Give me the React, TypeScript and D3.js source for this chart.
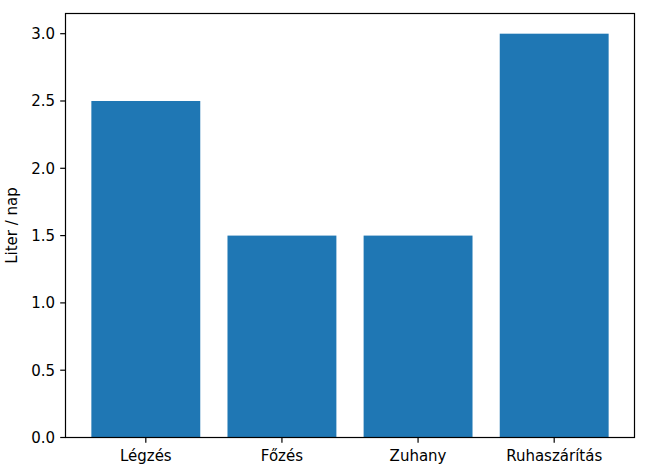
import React from "react";
import * as d3 from "d3";

const categories = ["Légzés", "Főzés", "Zuhany", "Ruhaszárítás"];
const values = [2.5, 1.5, 1.5, 3.0];
const yTicks = [0, 0.5, 1.0, 1.5, 2.0, 2.5, 3.0];
const yLabel = "Liter / nap";

export default function App() {
  const W = 657, H = 467;
  const left = 65.5, right = 634.5, top = 13.5, bottom = 437.5;
  const x = d3.scaleLinear().domain([-0.59, 3.59]).range([left, right]);
  const y = d3.scaleLinear().domain([0, 3.15]).range([bottom, top]);
  const bw = x(0.8) - x(0);
  const font = "DejaVu Sans, sans-serif";
  const fs = 15;
  const tickLen = 5.3;
  return (
    <div style={{ position: "absolute", left: 0, top: 0 }}>
      <svg width={W} height={H} style={{ display: "block", background: "#fff" }}>
        {values.map((v, i) => (
          <rect key={i} x={x(i) - bw / 2} y={y(v)} width={bw} height={y(0) - y(v)} fill="#1f77b4" />
        ))}
        <rect x={left} y={top} width={right - left} height={bottom - top} fill="none" stroke="#000" strokeWidth={1.2} />
        {yTicks.map((t) => (
          <g key={t}>
            <line x1={left - tickLen} x2={left} y1={y(t)} y2={y(t)} stroke="#000" strokeWidth={1.2} />
            <text x={left - 10.5} y={y(t)} dy="0.36em" textAnchor="end" fontFamily={font} fontSize={fs} fill="#000">
              {t.toFixed(1)}
            </text>
          </g>
        ))}
        {categories.map((c, i) => (
          <g key={c}>
            <line x1={x(i)} x2={x(i)} y1={bottom} y2={bottom + tickLen} stroke="#000" strokeWidth={1.2} />
            <text x={x(i)} y={461} textAnchor="middle" fontFamily={font} fontSize={fs} fill="#000">
              {c}
            </text>
          </g>
        ))}
        <text
          transform={`translate(${16.5},${(top + bottom) / 2}) rotate(-90)`}
          textAnchor="middle"
          fontFamily={font}
          fontSize={fs}
          fill="#000"
        >
          {yLabel}
        </text>
      </svg>
    </div>
  );
}
